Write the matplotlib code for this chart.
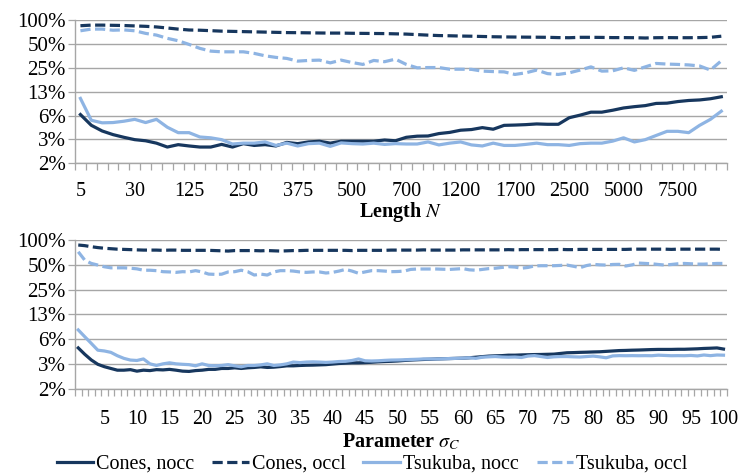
import numpy as np
import matplotlib.pyplot as plt

plt.rcParams['font.family'] = 'Liberation Serif'
plt.rcParams['mathtext.fontset'] = 'stix'

# --- data (error rates in %) ---
len_labels = ['5', '30', '125', '250', '375', '500', '700', '1200', '1700', '2500', '5000', '7500']
sig_labels = [str(v) for v in range(5, 101, 5)]
ytick_vals = [1.5625, 3.125, 6.25, 12.5, 25, 50, 100]
ytick_labels = ['2%', '3%', '6%', '13%', '25%', '50%', '100%']

cones_nocc_len = [6.44, 4.71, 3.99, 3.59, 3.32, 3.1, 3.0, 2.8, 2.5, 2.68,
                  2.58, 2.5, 2.5, 2.7, 2.5, 2.76, 2.62, 2.68, 2.58, 2.86,
                  2.76, 2.9, 2.96, 2.8, 2.96, 2.96, 2.96, 2.96, 3.07, 3.0,
                  3.32, 3.43, 3.45, 3.7, 3.83, 4.08, 4.16, 4.4, 4.2, 4.7,
                  4.74, 4.8, 4.9, 4.85, 4.85, 5.87, 6.33, 6.9, 6.9, 7.3,
                  7.8, 8.1, 8.35, 8.9, 8.97, 9.4, 9.7, 9.85, 10.2, 10.8]
cones_occl_len = [85.5, 87, 87, 86.5, 86, 85, 84, 82.5, 80, 77.5,
                  75.5, 75, 74, 73, 72.5, 72, 71.5, 71, 70.5, 70,
                  69.8, 69.5, 69.2, 69, 69, 68.6, 68.4, 68.2, 68, 67.5,
                  67, 66, 65, 64.2, 63.8, 63.3, 63, 62.5, 62, 61.7,
                  61.5, 61.3, 61.2, 61, 60.5, 60.3, 61, 61, 60.8, 60.5,
                  60.5, 60.3, 59.8, 60.3, 60.5, 60.3, 60.3, 60.5, 61, 63]
tsukuba_nocc_len = [10.3, 5.45, 5.06, 5.1, 5.3, 5.6, 5.1, 5.6, 4.45, 3.8,
                    3.8, 3.35, 3.27, 3.1, 2.73, 2.8, 2.8, 2.9, 2.62, 2.8,
                    2.58, 2.76, 2.8, 2.55, 2.82, 2.76, 2.73, 2.8, 2.7, 2.76,
                    2.73, 2.73, 2.9, 2.66, 2.8, 2.9, 2.66, 2.58, 2.8, 2.62,
                    2.62, 2.7, 2.8, 2.68, 2.68, 2.62, 2.76, 2.8, 2.8, 2.97,
                    3.27, 2.9, 3.1, 3.5, 3.95, 3.95, 3.8, 4.7, 5.6, 7.1]
tsukuba_occl_len = [73.8, 77.5, 77.5, 75, 75.7, 73.8, 68.4, 65.1, 59.2, 55.2,
                    49.6, 44.2, 40.8, 40, 40, 40, 38.2, 35.6, 34, 33,
                    30.5, 31.1, 31.4, 29, 31.4, 29.3, 27.7, 31.1, 30, 32.3,
                    27.7, 25.1, 25.3, 25.3, 24.1, 24.1, 24, 22.8, 22.5, 22.3,
                    20.7, 21.7, 23.5, 21.2, 20.7, 21.7, 23.5, 25.8, 22.8, 23,
                    25.1, 23.3, 25.8, 28.5, 28, 27.7, 27.3, 26.5, 23.5, 30.8]

cones_nocc_sig = [4.9, 4.1, 3.5, 3.1, 2.9, 2.76, 2.63, 2.63, 2.67, 2.56,
                  2.63, 2.6, 2.67, 2.65, 2.69, 2.63, 2.56, 2.54, 2.6, 2.63,
                  2.69, 2.69, 2.76, 2.76, 2.81, 2.76, 2.81, 2.84, 2.89, 2.84,
                  2.86, 2.91, 2.97, 2.97, 3.0, 3.02, 3.03, 3.05, 3.07, 3.12,
                  3.17, 3.2, 3.23, 3.23, 3.25, 3.28, 3.32, 3.35, 3.37, 3.4,
                  3.45, 3.49, 3.52, 3.55, 3.57, 3.6, 3.62, 3.64, 3.66, 3.68,
                  3.72, 3.78, 3.84, 3.9, 3.93, 3.95, 4.0, 4.0, 4.03, 4.05,
                  4.07, 4.08, 4.1, 4.12, 4.2, 4.28, 4.3, 4.33, 4.35, 4.38,
                  4.4, 4.45, 4.5, 4.55, 4.57, 4.6, 4.62, 4.65, 4.68, 4.7,
                  4.7, 4.7, 4.72, 4.72, 4.75, 4.78, 4.83, 4.86, 4.9, 4.75]
cones_occl_sig = [87, 85.5, 83, 81, 79.5, 78.5, 77.5, 77, 76.5, 76,
                  75.5, 75.5, 75.5, 75, 75.5, 75.5, 75, 75, 75, 75,
                  75, 74.5, 74, 73.5, 74.5, 74.5, 74.5, 74.5, 74, 74.5,
                  74, 73.5, 74, 74.5, 74.5, 75, 75, 75, 75, 75,
                  75, 75, 74.5, 75, 75, 75, 75, 75, 75.5, 75.5,
                  75.5, 75.5, 75.5, 76, 75.5, 75.5, 75.5, 75.5, 75.5, 76,
                  76, 76, 76, 76, 76, 76, 76.5, 76, 76.5, 76.5,
                  76.5, 76.5, 76.5, 76.5, 77, 76.5, 76.5, 77, 77, 77,
                  77, 77, 77, 77, 77, 77.5, 77.5, 77.5, 77.5, 77.5,
                  77.5, 77, 77.5, 77.5, 77.5, 77.5, 77.5, 77.5, 77.5, 77]
tsukuba_nocc_sig = [8.1, 6.7, 5.56, 4.6, 4.5, 4.33, 3.94, 3.66, 3.49, 3.45,
                    3.6, 3.14, 3.0, 3.14, 3.23, 3.14, 3.1, 3.07, 2.97, 3.14,
                    3.0, 2.97, 3.0, 3.07, 2.97, 2.89, 3.0, 3.0, 3.05, 3.14,
                    3.0, 3.05, 3.14, 3.3, 3.25, 3.3, 3.32, 3.3, 3.27, 3.3,
                    3.35, 3.37, 3.45, 3.6, 3.42, 3.4, 3.42, 3.46, 3.49, 3.5,
                    3.52, 3.55, 3.57, 3.6, 3.6, 3.6, 3.62, 3.64, 3.66, 3.68,
                    3.72, 3.66, 3.78, 3.82, 3.85, 3.8, 3.78, 3.8, 3.75, 3.9,
                    3.95, 3.85, 3.75, 3.82, 3.85, 3.85, 3.82, 3.8, 3.85, 3.9,
                    3.82, 3.72, 3.92, 3.95, 3.94, 3.95, 3.94, 3.95, 3.94, 4.0,
                    3.97, 3.94, 3.95, 3.94, 3.97, 3.92, 4.02, 3.95, 4.02, 4.0]
tsukuba_occl_sig = [72, 57, 52, 49.7, 47.4, 46, 46, 46, 45.5, 44.7,
                    43, 43, 42.5, 41.3, 41, 40.5, 41.3, 41, 42.5, 41,
                    38.6, 38.3, 38.5, 41, 41.3, 43, 41.3, 37.6, 38.6, 37.6,
                    41, 42.5, 42.5, 42, 41, 40.5, 41, 41, 39.8, 40.5,
                    42, 44, 42, 39.5, 41, 42.5, 42.5, 42, 41.3, 41.5,
                    42, 44, 44.5, 44.5, 44.5, 44.5, 44.2, 44, 44.5, 45,
                    43.5, 43, 44, 45, 45.5, 46.5, 47.5, 47, 45.5, 46.5,
                    48.5, 48.8, 48.8, 48.8, 49.2, 49.7, 48, 46.2, 49, 50.7,
                    50, 49.7, 50.5, 50.7, 48.4, 50, 52.5, 52, 51.5, 50.5,
                    49.7, 50.5, 51.5, 52, 51.5, 51, 51, 51.5, 52, 52]

DARK = '#17375E'
LIGHT = '#8EB4E3'
GRID = '#A6A6A6'

fig = plt.figure(figsize=(7.44, 4.73), dpi=100)
ax1 = fig.add_axes([0.1008, 0.655, 0.876, 0.302])
ax2 = fig.add_axes([0.1008, 0.178, 0.876, 0.3145])


def draw(ax, series, tick_idx, tick_labels, xlabel, pad, labelpad):
    n = len(series[0])
    x = np.arange(n)
    styles = [(DARK, '-'), (DARK, '--'), (LIGHT, '-'), (LIGHT, '--')]
    names = ['Cones, nocc', 'Cones, occl', 'Tsukuba, nocc', 'Tsukuba, occl']
    for vals, (c, ls), name in zip(series, styles, names):
        line, = ax.plot(x, vals, color=c, lw=2.3, label=name, zorder=3)
        if ls == '--':
            line.set_dashes((3.2, 1.4))
    ax.set_yscale('log', base=2)
    ax.set_ylim(ytick_vals[0], ytick_vals[-1])
    ax.set_yticks(ytick_vals)
    ax.set_yticklabels(ytick_labels)
    ax.yaxis.set_minor_locator(plt.NullLocator())
    ax.set_xlim(-0.5, n - 0.5)
    ax.set_xticks(tick_idx)
    ax.set_xticklabels(tick_labels)
    ax.set_xticks(np.arange(-0.5, n), minor=True)
    ax.tick_params(axis='x', which='major', length=0, labelsize=14.5, pad=pad)
    ax.tick_params(axis='x', which='minor', length=5, width=0.9, color=GRID)
    ax.tick_params(axis='y', length=5, width=0.9, color=GRID, labelsize=15, pad=1.5)
    ax.grid(axis='y', color=GRID, lw=1.0, zorder=0)
    for s in ['top', 'right']:
        ax.spines[s].set_visible(False)
    for s in ['left', 'bottom']:
        ax.spines[s].set_color(GRID)
        ax.spines[s].set_linewidth(1.0)
    ax.set_xlabel(xlabel, fontsize=14.5, fontweight='bold', labelpad=labelpad)


draw(ax1, [cones_nocc_len, cones_occl_len, tsukuba_nocc_len, tsukuba_occl_len],
     list(range(0, 60, 5)), len_labels, 'Length $N$', 13.5, -1)
draw(ax2, [cones_nocc_sig, cones_occl_sig, tsukuba_nocc_sig, tsukuba_occl_sig],
     list(range(4, 100, 5)), sig_labels, r'Parameter $\sigma_C$', 15, 2)

handles, labels = ax2.get_legend_handles_labels()
fig.legend(handles, labels, loc='center', bbox_to_anchor=(0.5, 1 - 464 / 473),
           ncol=4, frameon=False, fontsize=14.5, handlelength=1.8,
           handletextpad=0.15, columnspacing=0.9, borderaxespad=0)

fig.savefig('out.png', dpi=100)
